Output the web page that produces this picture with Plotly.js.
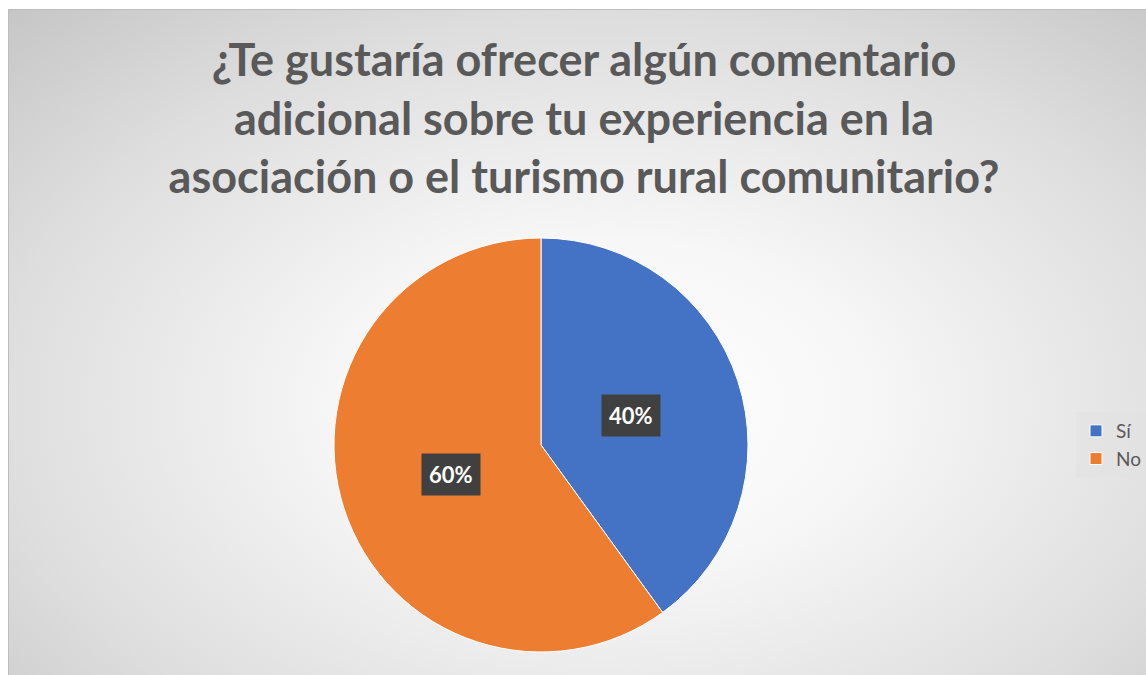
<!DOCTYPE html>
<html>
<head>
<meta charset="utf-8">
<script src="https://cdn.plot.ly/plotly-3.0.1.min.js"></script>
<style>
  html, body { margin: 0; padding: 0; background: #ffffff; }
  #wrap { position: relative; width: 1146px; height: 675px; overflow: hidden; }
  #bg { position: absolute; left: 8px; top: 9px; width: 1150px; height: 680px;
        border: 1px solid #bdbdbd;
        background: radial-gradient(ellipse 75% 80% at 52% 58%, #ffffff 0%, #f7f7f7 30%, #dedede 70%, #c6c6c6 100%); }
  #chart { position: absolute; left: 0; top: 0; width: 1146px; height: 675px; }
</style>
</head>
<body>
<div id="wrap">
  <div id="bg"></div>
  <div id="chart"></div>
</div>
<script>
const titleLines = ["¿Te gustaría ofrecer algún comentario", "adicional sobre tu experiencia en la", "asociación o el turismo rural comunitario?"];
const categories = ["Sí", "No"];
const values = [40, 60];
const percentLabels = ["40%", "60%"];
const colors = ["#4472C4", "#ED7D31"];

const W = 1146, H = 675;
const dom = { x: [334 / W, 748 / W], y: [23 / H, 437 / H] };
const cx = (dom.x[0] + dom.x[1]) / 2, cy = (dom.y[0] + dom.y[1]) / 2;
const radiusPx = 207;

// label annotations computed from the data (slice mid-angles, clockwise from 12 o'clock)
const total = values.reduce((a, b) => a + b, 0);
let cum = 0;
const annotations = values.map((v, i) => {
  const mid = (cum + v / 2) / total * 2 * Math.PI;
  cum += v;
  const rr = radiusPx * 0.455;
  return {
    xref: 'paper', yref: 'paper',
    x: cx + rr * Math.sin(mid) / W,
    y: cy + rr * Math.cos(mid) / H,
    text: '<b>' + percentLabels[i] + '</b>',
    showarrow: false,
    font: { family: 'Lato, "Open Sans", sans-serif', size: 22, color: '#ffffff' },
    bgcolor: '#404040',
    borderpad: 7,
    xanchor: 'center', yanchor: 'middle'
  };
});

const trace = {
  type: 'pie',
  labels: categories,
  values: values,
  marker: { colors: colors, line: { color: '#ffffff', width: 1 } },
  sort: false,
  direction: 'clockwise',
  rotation: 0,
  textinfo: 'none',
  hoverinfo: 'label+percent',
  domain: dom
};

const layout = {
  width: W, height: H,
  paper_bgcolor: 'rgba(0,0,0,0)',
  plot_bgcolor: 'rgba(0,0,0,0)',
  margin: { l: 0, r: 0, t: 0, b: 0 },
  title: {
    text: '<b>' + titleLines.join('<br>') + '</b>',
    font: { family: 'Lato, "Open Sans", sans-serif', size: 45, color: '#595959' },
    x: 584 / W, xanchor: 'center',
    y: 1 - 76 / H, yanchor: 'middle',
    xref: 'paper', yref: 'paper'
  },
  showlegend: true,
  legend: {
    x: 1076 / W, xanchor: 'left',
    y: (H - 445) / H, yanchor: 'middle',
    bgcolor: 'rgba(225,225,225,0.55)',
    font: { family: 'Lato, "Open Sans", sans-serif', size: 19, color: '#595959' },
    itemwidth: 30
  },
  annotations: annotations
};

Plotly.newPlot('chart', [trace], layout, { displayModeBar: false, staticPlot: true });
</script>
</body>
</html>
